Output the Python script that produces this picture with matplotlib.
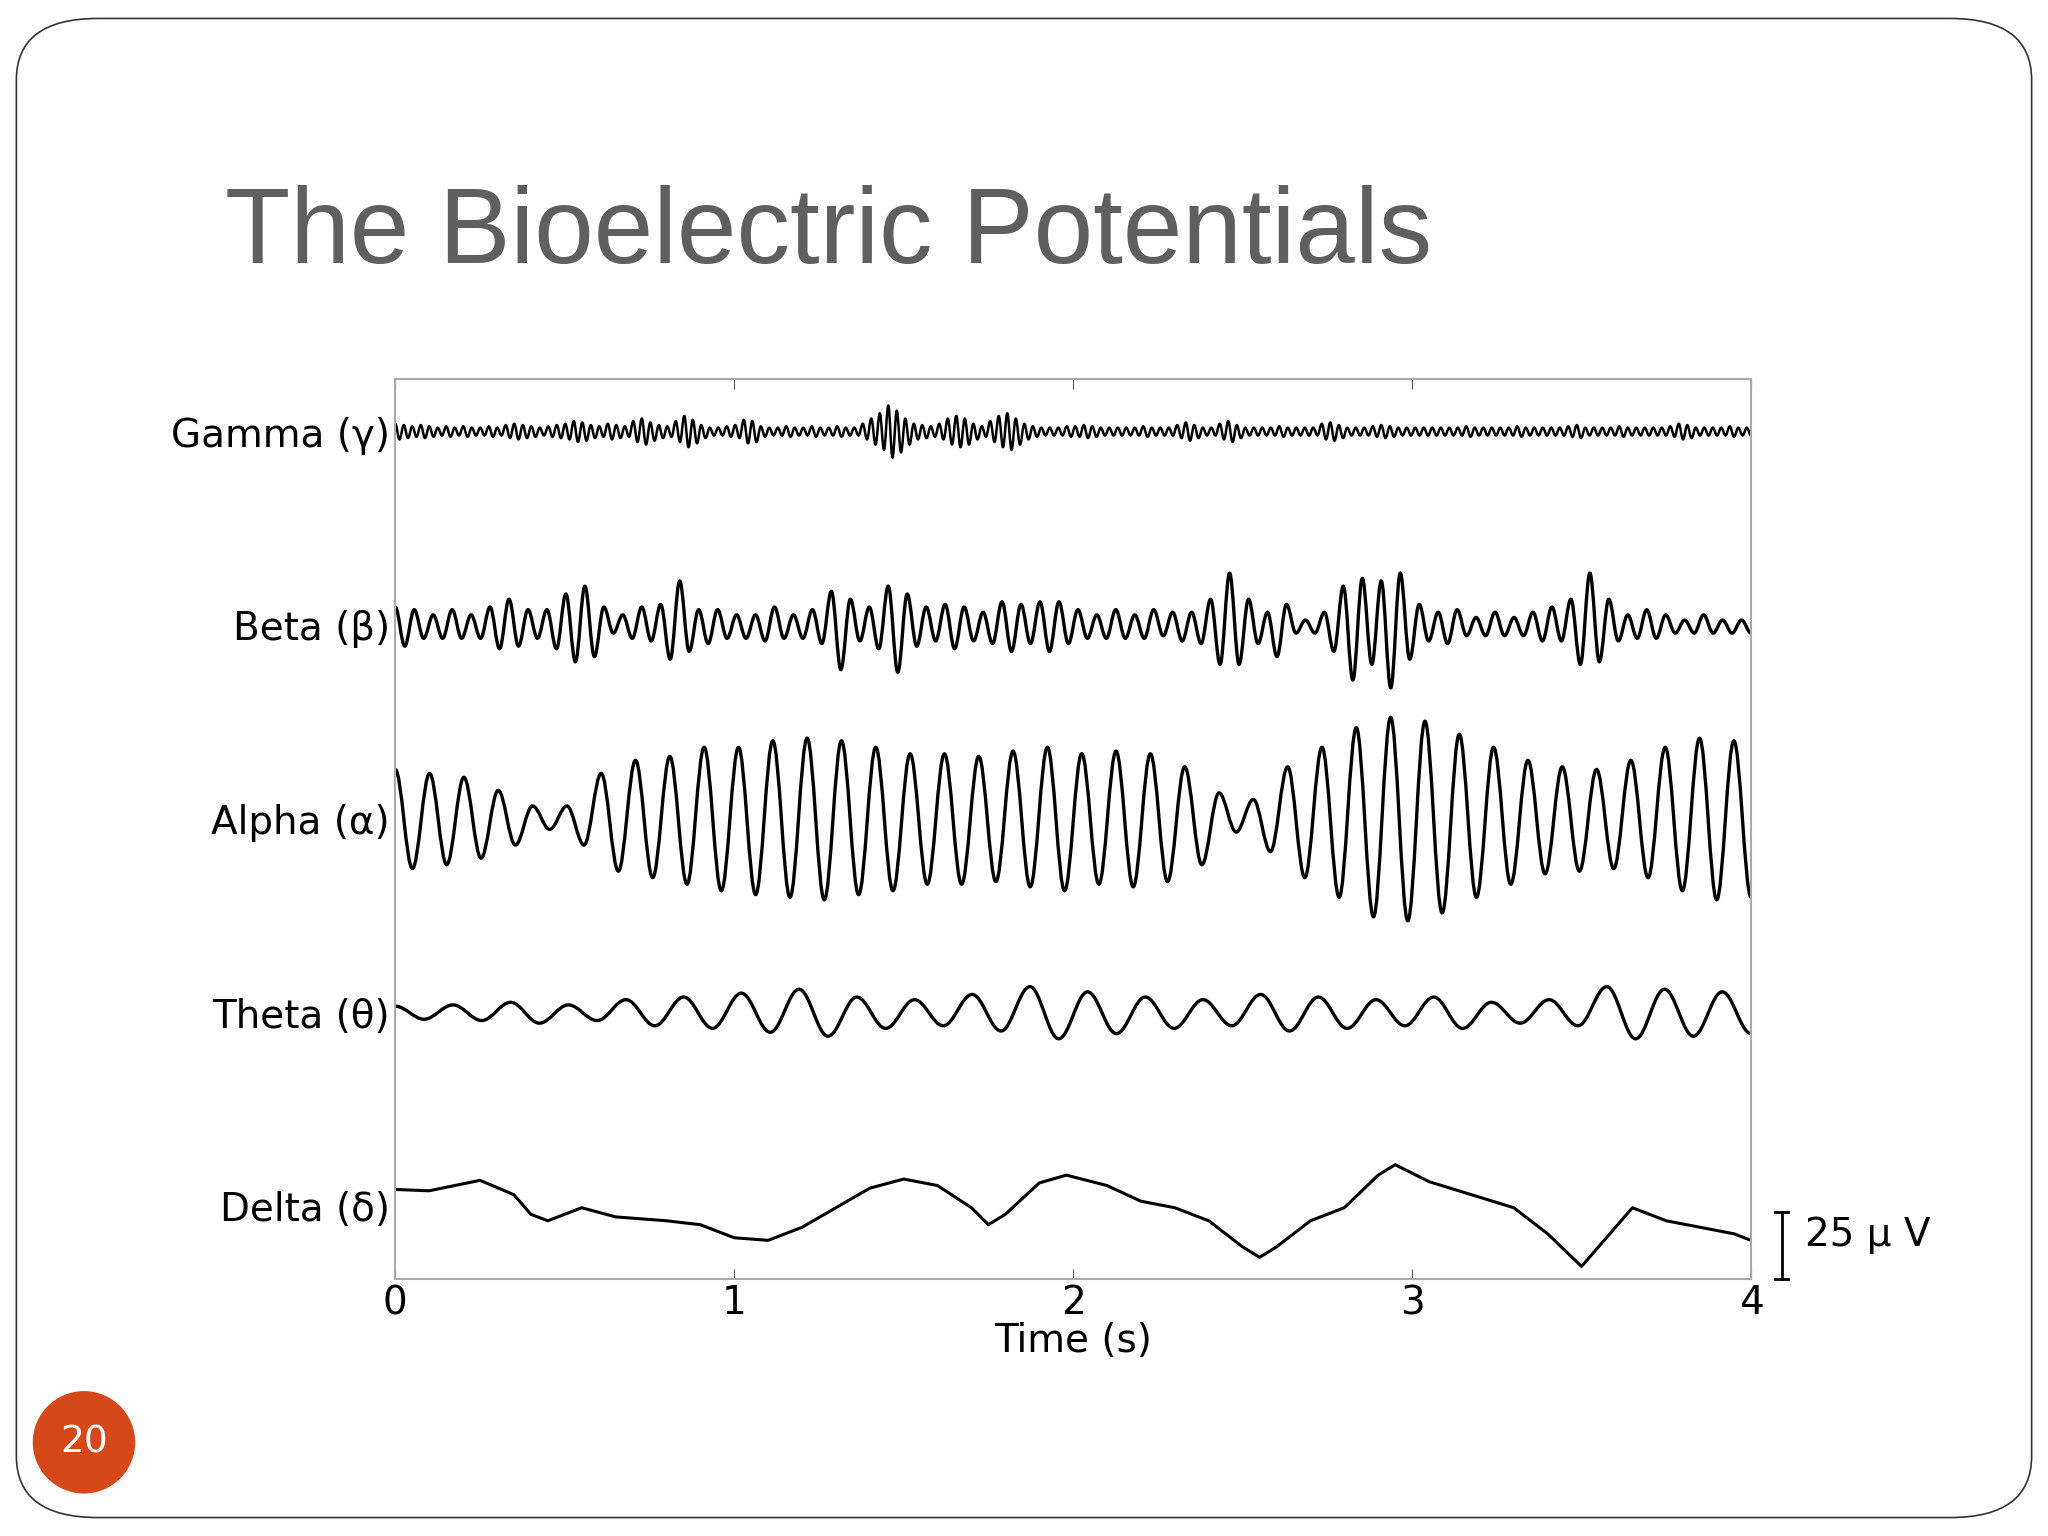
import numpy as np
import matplotlib.pyplot as plt
from matplotlib.patches import FancyBboxPatch, Ellipse, PathPatch
from matplotlib.path import Path

# trace values in plot units (1 unit = 1/52 of 25 uV scale bar)
band_labels = ['Delta (δ)', 'Theta (θ)', 'Alpha (α)', 'Beta (β)', 'Gamma (γ)']
x_ticks = [0, 1, 2, 3, 4]

delta_t = [0, 0.1, 0.25, 0.35, 0.4, 0.45, 0.55, 0.65, 0.8, 0.9, 1.0, 1.1, 1.2, 1.3, 1.4, 1.5,
           1.6, 1.7, 1.75, 1.8, 1.9, 1.98, 2.1, 2.2, 2.3, 2.4, 2.5, 2.55, 2.6, 2.7, 2.8, 2.9,
           2.95, 3.05, 3.15, 3.3, 3.4, 3.5, 3.6, 3.65, 3.75, 3.85, 3.95, 4.0]
delta_v = [13, 12, 20, 9, -6, -11, -1, -8, -11, -14, -24, -26, -16, -1, 14, 21,
           16, -1, -14, -6, 18, 24, 16, 4, -1, -11, -31, -39, -31, -11, -1, 24,
           32, 19, 11, -1, -21, -46, -16, -1, -11, -16, -21, -26]

theta_amp = [5, 5, 6, 6, 8, 8, 6, 6, 10, 10, 12, 12, 15, 15, 18, 18, 12, 12, 10, 10, 14, 14, 20, 20,
             16, 16, 12, 12, 10, 10, 14, 14, 12, 12, 10, 10, 12, 12, 8, 8, 10, 10, 20, 20, 18, 18, 16, 16]

alpha_amp = [38, 38, 35, 35, 32, 30, 22, 20, 10, 8, 10, 20, 35, 40, 45, 45, 48, 50, 55, 55,
             55, 58, 60, 60, 62, 62, 60, 58, 55, 55, 50, 50, 50, 50, 48, 48, 52, 52, 55, 55,
             50, 50, 52, 52, 50, 48, 40, 35, 20, 10, 15, 25, 40, 45, 55, 60, 70, 75, 78, 78,
             75, 72, 65, 60, 55, 50, 45, 42, 40, 40, 38, 38, 45, 45, 55, 55, 62, 62, 60, 60]

beta_amp = [14, 16, 12, 10, 8, 10, 12, 10,
            8, 10, 14, 18, 20, 16, 12, 10,
            12, 18, 24, 28, 30, 24, 14, 6,
            8, 10, 14, 12, 16, 26, 34, 20,
            12, 14, 12, 10, 8, 10, 8, 12,
            14, 10, 8, 10, 12, 14, 26, 34,
            20, 12, 14, 18, 30, 36, 24, 16,
            14, 12, 16, 18, 14, 12, 10, 14,
            18, 20, 16, 14, 18, 20, 18, 14,
            12, 10, 8, 10, 12, 10, 8, 10,
            12, 8, 10, 12, 10, 14, 20, 30,
            40, 30, 20, 14, 10, 24, 16, 6,
            4, 6, 10, 20, 30, 42, 36, 30,
            34, 48, 40, 26, 16, 12, 10, 14,
            12, 8, 6, 8, 10, 8, 6, 8,
            10, 12, 14, 12, 20, 30, 40, 28,
            20, 12, 8, 10, 12, 10, 8, 6,
            4, 6, 8, 6, 4, 6, 4, 6]

# one value per cycle (peak and trough)
gamma_amp = [6, 5, 4, 5, 4, 3, 4, 3, 4, 3,
             3, 4, 3, 5, 6, 5, 4, 3, 4, 5,
             6, 8, 7, 5, 4, 6, 5, 4, 8, 10,
             7, 5, 4, 8, 12, 9, 5, 3, 3, 4,
             5, 9, 8, 4, 3, 3, 4, 3, 3, 4,
             3, 3, 4, 3, 3, 6, 10, 14, 20, 16,
             10, 6, 5, 4, 6, 10, 12, 10, 6, 4,
             8, 12, 14, 10, 6, 4, 3, 3, 3, 4,
             4, 5, 4, 3, 3, 3, 3, 3, 4, 3,
             3, 3, 5, 7, 5, 3, 3, 6, 8, 5,
             3, 3, 3, 3, 4, 3, 3, 3, 3, 6,
             7, 5, 3, 3, 3, 4, 5, 4, 3, 3,
             3, 3, 3, 3, 3, 3, 4, 3, 3, 3,
             3, 3, 4, 3, 3, 3, 3, 3, 4, 5,
             3, 3, 3, 3, 4, 3, 3, 3, 3, 3,
             4, 6, 5, 3, 3, 3, 3, 4, 3, 3]


def smooth_path(t, y):
    # cubic segments with horizontal tangents at each extremum
    verts = [(t[0], y[0])]
    codes = [Path.MOVETO]
    for i in range(len(t) - 1):
        d = t[i + 1] - t[i]
        verts += [(t[i] + 0.36 * d, y[i]), (t[i + 1] - 0.36 * d, y[i + 1]), (t[i + 1], y[i + 1])]
        codes += [Path.CURVE4] * 3
    return Path(verts, codes)


fig = plt.figure(figsize=(20.48, 15.36), dpi=100)
fig.patch.set_facecolor('white')

# slide frame
fig.patches.append(FancyBboxPatch((0.008, 0.012), 0.984, 0.976, boxstyle='round,pad=0,rounding_size=0.04',
                                  transform=fig.transFigure, fill=False, ec='#333333', lw=1.2))
fig.text(0.11, 0.847, 'The Bioelectric Potentials', fontsize=77, color='#5f5f5f', va='center',
         family='Liberation Sans')
fig.patches.append(Ellipse((0.041, 0.061), 0.05, 0.0667, transform=fig.transFigure, fc='#d4481a', ec='none'))
fig.text(0.041, 0.061, '20', fontsize=27, color='white', ha='center', va='center')

ax = fig.add_axes([0.193, 0.167, 0.662, 0.586])
ax.set_xlim(0, 4)
ax.set_ylim(0, 690)
centers = [56 + 148.5 * k for k in range(5)]

traces = [(1, np.array(theta_amp, float)), (2, np.array(alpha_amp, float)),
          (3, np.array(beta_amp, float)), (4, np.repeat(np.array(gamma_amp, float), 2))]
ax.plot(delta_t, np.array(delta_v) + centers[0], color='black', lw=2.2, solid_joinstyle='round')
for k, amp in traces:
    sign = np.where(np.arange(len(amp)) % 2 == 0, 1.0, -1.0)
    t = np.linspace(0, 4, len(amp))
    ax.add_patch(PathPatch(smooth_path(t, centers[k] + sign * amp), fill=False,
                           lw=2.4 if k < 4 else 1.8, joinstyle='round'))

ax.set_yticks(centers)
ax.set_yticklabels(band_labels, fontsize=28, family='DejaVu Sans')
ax.set_xticks(x_ticks)
ax.set_xticklabels([str(v) for v in x_ticks], fontsize=28)
ax.tick_params(direction='in', length=7, top=True, right=True, color='#555555')
ax.tick_params(axis='y', length=0, pad=4)
ax.set_xlabel('Time (s)', fontsize=28, labelpad=0)
for s in ax.spines.values():
    s.set_color('#aaaaaa')
    s.set_linewidth(1.5)

# scale bar
ax.plot([4.09, 4.09], [0, 52], color='black', lw=2, clip_on=False)
ax.plot([4.07, 4.11], [0, 0], color='black', lw=2, clip_on=False)
ax.plot([4.07, 4.11], [52, 52], color='black', lw=2, clip_on=False)
ax.text(4.16, 34, '25 µ V', fontsize=28, va='center', clip_on=False)

fig.savefig('out.png', dpi=100)
